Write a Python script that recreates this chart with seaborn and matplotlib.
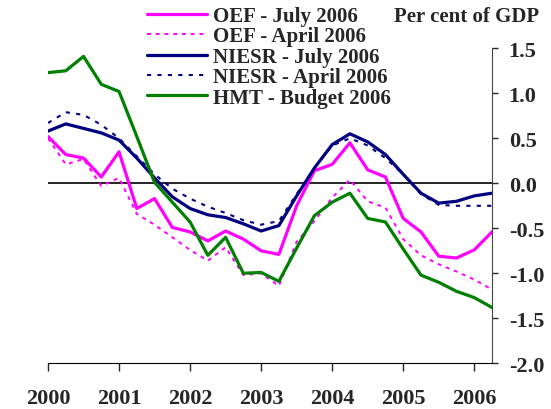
import numpy as np
import pandas as pd
import seaborn as sns
import matplotlib.pyplot as plt

# Quarterly estimates, 2000 Q1 to 2006 Q2 (per cent of GDP)
quarters = 2000 + np.arange(26) * 0.25
years = [2000, 2001, 2002, 2003, 2004, 2005, 2006]

oef_july = [0.52, 0.32, 0.28, 0.07, 0.35, -0.28, -0.17, -0.49, -0.54, -0.64, -0.53, -0.62, -0.75,
            -0.79, -0.25, 0.14, 0.21, 0.45, 0.15, 0.07, -0.39, -0.54, -0.81, -0.83, -0.74, -0.54]
oef_april = [0.50, 0.21, 0.27, -0.03, 0.06, -0.34, -0.46, -0.60, -0.74, -0.86, -0.71, -1.02, -1.00,
             -1.14, -0.65, -0.42, -0.16, 0.04, -0.20, -0.27, -0.62, -0.80, -0.90, -0.98, -1.07, -1.18]
niesr_july = [0.58, 0.66, 0.61, 0.56, 0.48, 0.28, 0.06, -0.15, -0.28, -0.35, -0.38, -0.45, -0.53,
              -0.47, -0.14, 0.17, 0.43, 0.55, 0.46, 0.32, 0.10, -0.11, -0.22, -0.20, -0.14, -0.11]
niesr_april = [0.67, 0.79, 0.76, 0.65, 0.50, 0.30, 0.10, -0.06, -0.17, -0.26, -0.33, -0.41, -0.46,
               -0.42, -0.12, 0.17, 0.42, 0.50, 0.42, 0.28, 0.10, -0.12, -0.24, -0.25, -0.25, -0.25]
hmt_budget = [1.23, 1.25, 1.41, 1.10, 1.02, 0.52, 0.01, -0.21, -0.43, -0.80, -0.60, -1.00, -0.99,
              -1.09, -0.72, -0.36, -0.21, -0.11, -0.39, -0.43, -0.73, -1.02, -1.10, -1.20, -1.27, -1.38]

series = [
    ('OEF - July 2006', oef_july, '#FF00FF', '-', 2.3),
    ('OEF - April 2006', oef_april, '#FF00FF', (0, (2, 2.5)), 1.4),
    ('NIESR - July 2006', niesr_july, '#000080', '-', 2.3),
    ('NIESR - April 2006', niesr_april, '#000080', (0, (2, 3)), 1.5),
    ('HMT - Budget 2006', hmt_budget, '#008000', '-', 2.3),
]

sns.set_style("white")
plt.rcParams['font.family'] = ['Liberation Serif', 'DejaVu Serif']
plt.rcParams['font.weight'] = 'bold'

fig = plt.figure(figsize=(5.51, 4.10), dpi=100)
ax = fig.add_axes([48 / 551, 1 - 364.3 / 410, (492 - 48) / 551, (364.3 - 49.3) / 410])

ax.axhline(0, color='black', lw=1.2, zorder=1)

for label, vals, color, ls, lw in series:
    df = pd.DataFrame({'quarter': quarters, 'value': vals})
    sns.lineplot(data=df, x='quarter', y='value', ax=ax, color=color, lw=lw,
                 linestyle=ls, label=label, zorder=3)

ax.set_xlim(2000, 2006.25)
ax.set_ylim(-2.0, 1.5)
ax.set_xticks(years)
ax.set_xticklabels([str(y) for y in years])
ax.set_yticks(np.arange(-2.0, 1.51, 0.5))
ax.set_yticklabels([f'{v:.1f}' for v in np.arange(-2.0, 1.51, 0.5)])
ax.yaxis.tick_right()
ax.set_xlabel('')
ax.set_ylabel('')

for side in ['top', 'left']:
    ax.spines[side].set_visible(False)
ax.spines['bottom'].set_color('black')
ax.spines['right'].set_color('#444444')
ax.tick_params(axis='x', direction='out', length=6, width=1, pad=12, labelsize=16, bottom=True)
ax.tick_params(axis='y', direction='out', length=4, width=1, pad=8, labelsize=16, right=True)

ax.legend(loc='upper left', bbox_to_anchor=(147 / 551, 1 - 7 / 410), bbox_transform=fig.transFigure,
          frameon=False, fontsize=15, handlelength=2.9, handletextpad=0.25,
          labelspacing=0.02, borderpad=0, borderaxespad=0)

fig.text(539 / 551, 1 - 17 / 410, 'Per cent of GDP', ha='right', va='center', fontsize=15,
         fontweight='bold')

fig.savefig('out.png', dpi=100)
